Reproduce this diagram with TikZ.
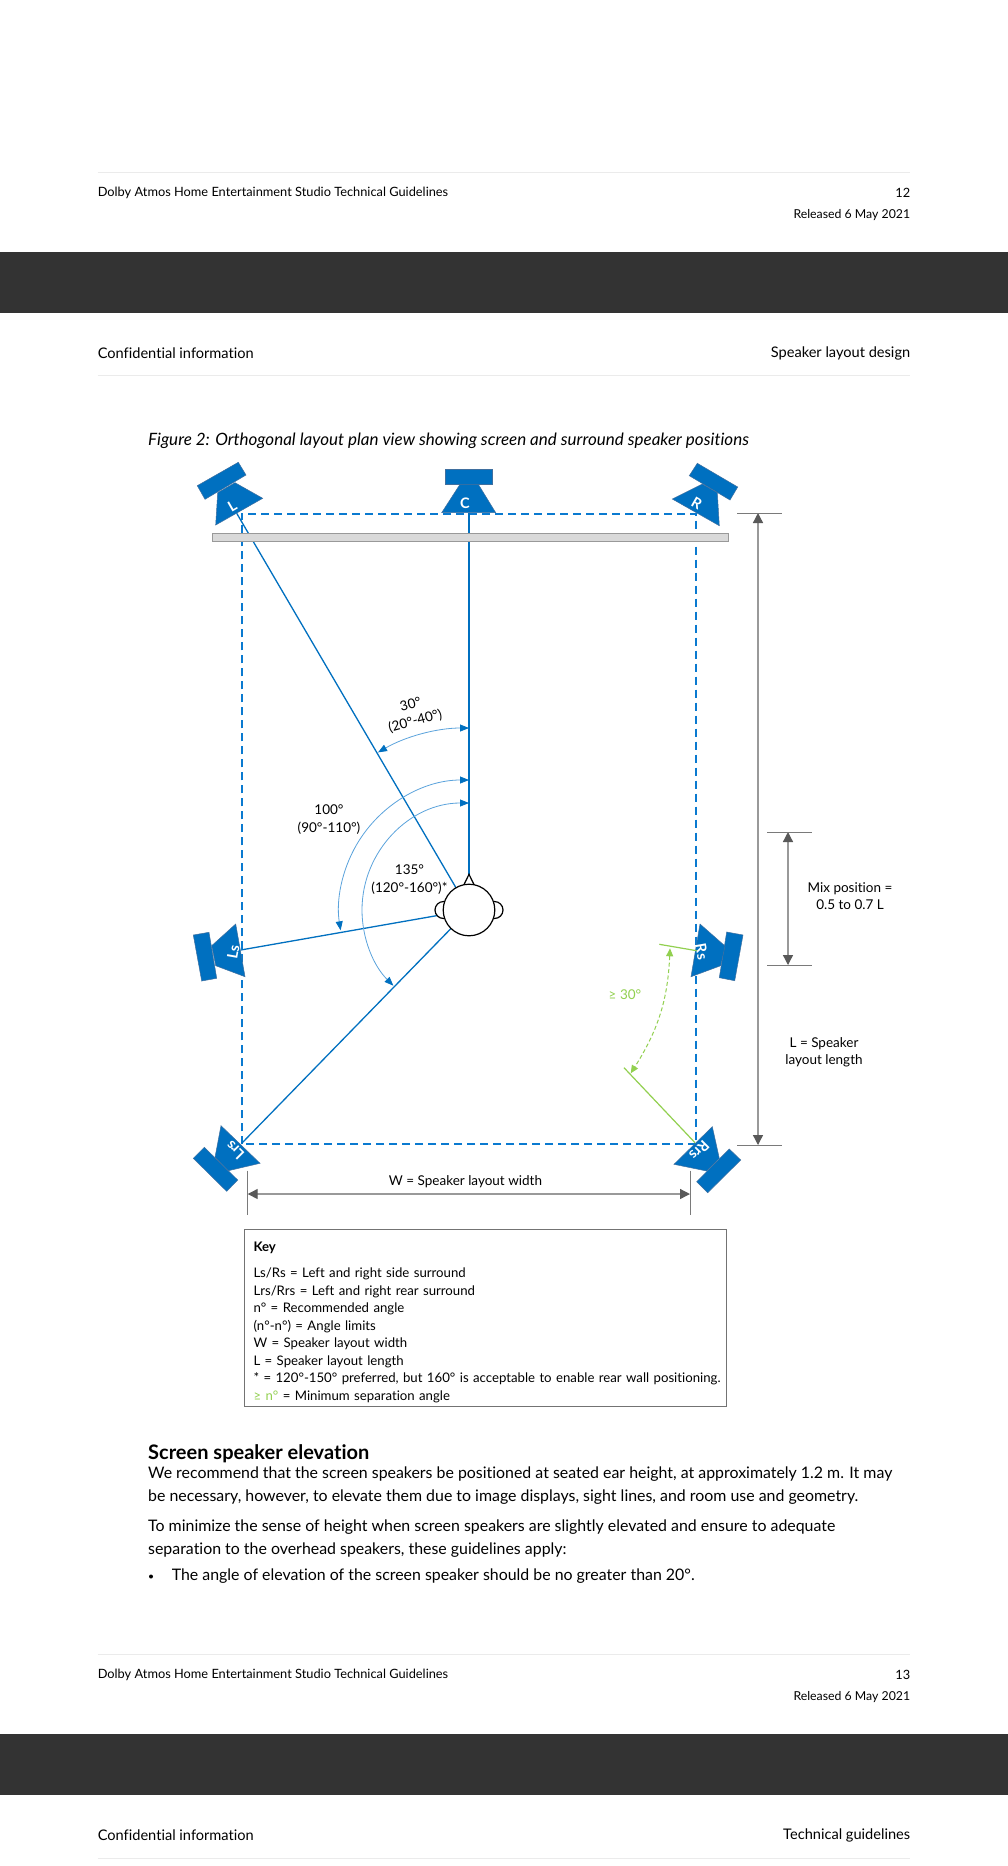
\documentclass[tikz,border=0pt]{standalone}
\usepackage{fontspec}
\setmainfont{Lato}[Ligatures=NoCommon]
\usetikzlibrary{arrows.meta}
\usetikzlibrary{arrows}
\definecolor{spkblue}{HTML}{0070C0}
\definecolor{spkedge}{HTML}{3F6F9F}
\definecolor{layoutblue}{HTML}{0A7AD0}
\definecolor{arcblue}{HTML}{5BA3DC}
\definecolor{mingreen}{HTML}{92D050}
\definecolor{dimgray}{HTML}{999999}
\definecolor{headgray}{HTML}{595959}
\definecolor{rulegray}{HTML}{EBEBEB}
\definecolor{bandgray}{HTML}{333333}
\tikzset{
pagetext/.style = {inner sep = 0pt, font = \fontsize{12.8}{17.5}\selectfont},
bodytext/.style = {inner sep = 0pt, align = left, font = \fontsize{15.9}{23}\selectfont},
figtext/.style = {inner sep = 0pt, align = center, font = \fontsize{13.5}{17.5}\selectfont},
spkbody/.style = {fill = spkblue, draw = spkedge, line width = 0.5pt},
spklabel/.style = {inner sep = 0pt, text = white, font = \fontsize{14.5}{14.5}\bfseries\selectfont},
sightline/.style = {draw = spkblue, line width = 1.3pt},
anglearc/.style = {draw = arcblue, line width = 0.8pt, {Triangle[length = 9pt, width = 7pt, color = spkblue]}-{Triangle[length = 9pt, width = 7pt, color = spkblue]}},
dimline/.style = {draw = dimgray, line width = 1.3pt, {Triangle[length = 10pt, width = 10pt, color = headgray]}-{Triangle[length = 10pt, width = 10pt, color = headgray]}},
dimtick/.style = {draw = dimgray!80!black, line width = 0.9pt}
}
\begin{document}
\begin{tikzpicture}[x = 1pt, y = -1pt]
\useasboundingbox (0,0) rectangle (1008,1866);
\fill[white] (0,0) rectangle (1008,1866);
\draw[rulegray] (97.6,172.5) -- (910.4,172.5);
\draw (97.6,192.4) node[pagetext, anchor = west, name = hdl]{Dolby Atmos Home Entertainment Studio Technical Guidelines};
\draw (910.4,192.4) node[pagetext, anchor = east, name = hdr]{12};
\draw (910.4,215) node[pagetext, anchor = east, name = hdd]{\fontsize{12.3}{17}\selectfont Released 6 May 2021};
\fill[bandgray] (0,252) rectangle (1008,313);
\draw (97.6,353) node[pagetext, anchor = west, name = conl]{\fontsize{14.6}{17}\selectfont Confidential information};
\draw (910.4,353.6) node[pagetext, anchor = east, name = conr]{\fontsize{14.6}{17}\selectfont Speaker layout design};
\draw[rulegray] (97.6,375.5) -- (910.4,375.5);
\draw (148,441) node[bodytext, anchor = west, name = cap]{\fontsize{17}{23}\itshape\selectfont Figure 2: Orthogonal layout plan view showing screen and surround speaker positions};
\coordinate (tl) at (241.7,513.7);
\coordinate (tr) at (696.3,513.7);
\coordinate (bl) at (241.7,1144.3);
\coordinate (br) at (696.3,1144.3);
\coordinate (aimL) at (236.7,513.3);
\coordinate (aimC) at (469,513);
\coordinate (aimLs) at (240.7,950);
\coordinate (aimLrs) at (241.7,1143.3);
\draw[layoutblue, line width = 2pt, dash pattern = on 8pt off 5pt] (bl) -- (tl) -- (tr) -- (br) -- cycle;
\draw[spkbody] (238.3,462.3) -- (246,475) -- (205,499.3) -- (197.3,485.7) -- cycle;
\draw[spkbody] (235,482.7) -- (262.7,498.3) -- (215.7,525) -- (217.7,492.7) -- cycle;
\draw[spkbody] (445,469) rectangle (492.3,484.3);
\draw[spkbody] (460,484.3) -- (478.3,484.3) -- (495.7,512.7) -- (441.7,512.7) -- cycle;
\draw[spkbody] (697.3,463.3) -- (737.7,487) -- (730,500) -- (689.3,475.7) -- cycle;
\draw[spkbody] (702.3,484) -- (717.3,492.7) -- (719.3,525.7) -- (672.3,499) -- cycle;
\draw[spkbody] (193.3,935) -- (209,932.3) -- (216.7,978.3) -- (201.7,981) -- cycle;
\draw[spkbody] (235.7,924) -- (245,976.7) -- (215.7,965.7) -- (211.7,945.7) -- cycle;
\draw[spkbody] (726.7,932) -- (743,935) -- (734.7,980.7) -- (719.3,977.7) -- cycle;
\draw[spkbody] (700,924) -- (725,946) -- (720.7,965.7) -- (691,976.7) -- cycle;
\draw[spkbody] (204.3,1147.3) -- (237.7,1180) -- (226.7,1191.3) -- (193.3,1158.3) -- cycle;
\draw[spkbody] (221,1125.7) -- (260,1163.3) -- (228.3,1170.7) -- (215,1157.3) -- cycle;
\draw[spkbody] (729.3,1149) -- (740.7,1160) -- (707.7,1192.7) -- (696.7,1181.7) -- cycle;
\draw[spkbody] (712.3,1126.7) -- (719.3,1158.3) -- (706.7,1171) -- (674,1164.3) -- cycle;
\draw (232.3,505.7) node[spklabel, rotate = 30, name = lblL]{L};
\draw (465,503.3) node[spklabel, name = lblC]{C};
\draw (696.7,503.3) node[spklabel, rotate = -30, name = lblR]{R};
\draw (233.3,951.7) node[spklabel, rotate = 80, name = lblLs]{Ls};
\draw (701.7,951.7) node[spklabel, rotate = -80, name = lblRs]{Rs};
\draw (235,1150) node[spklabel, rotate = 135, name = lblLrs]{Lrs};
\draw (699.3,1150.7) node[spklabel, rotate = 225, name = lblRrs]{Rrs};
\coordinate (headc) at (469,910);
\draw[sightline] (aimC) -- (headc);
\draw[sightline] (aimL) -- (headc);
\draw[sightline] (aimLs) -- (headc);
\draw[sightline] (aimLrs) -- (headc);
\draw[fill = white, draw = black, line width = 1.2pt] (443.5,910) circle[radius = 8.5pt];
\draw[fill = white, draw = black, line width = 1.2pt] (494.5,910) circle[radius = 8.5pt];
\draw[fill = white, draw = black, line width = 1.2pt] (469,874.3) -- (474,884.6) -- (464,884.6) -- cycle;
\draw (headc) node[circle, draw = black, fill = white, line width = 1.2pt, minimum size = 51.6pt, inner sep = 0pt, name = head]{};
\draw[fill = black!15, draw = dimgray, line width = 1pt] (212.7,533.3) rectangle (728.3,541);
\draw[anglearc] (headc) ++(90:182pt) arc[start angle = 90, end angle = 120, radius = 182pt];
\draw[anglearc] (headc) ++(90:130pt) arc[start angle = 90, end angle = 189, radius = 130pt];
\draw[anglearc] (headc) ++(90:107pt) arc[start angle = 90, end angle = 225, radius = 107pt];
\draw (413,713) node[figtext, rotate = 15, name = ang30]{30°\\(20°-40°)};
\draw (329,819.5) node[figtext, name = ang100]{100°\\(90°-110°)};
\draw (409.5,879.5) node[figtext, name = ang135]{135°\\(120°-160°)*};
\coordinate (grnA) at (659.3,944.3);
\coordinate (grnB) at (696.7,950.7);
\coordinate (grnC) at (624,1067.7);
\coordinate (grnD) at (695,1142.7);
\coordinate (grnE) at (670,948.3);
\coordinate (grnF) at (630.7,1073.3);
\draw[mingreen, line width = 1.2pt] (grnA) -- (grnB);
\draw[mingreen, line width = 1.2pt] (grnC) -- (grnD);
\draw[mingreen, line width = 1pt, dash pattern = on 4pt off 2.5pt, {Triangle[length = 8pt, width = 7pt]}-{Triangle[length = 8pt, width = 7pt]}] (grnE) to[bend left = 15] (grnF);
\draw (625,994.8) node[figtext, text = mingreen, name = ang30min]{≥ 30°};
\coordinate (lenT) at (758,513);
\coordinate (lenB) at (758,1145);
\coordinate (mixT) at (788,832);
\coordinate (mixB) at (788,965);
\coordinate (widL) at (247.7,1194);
\coordinate (widR) at (690,1194);
\draw[dimline] (lenT) -- (lenB);
\draw[dimline] (mixT) -- (mixB);
\draw[dimline] (widL) -- (widR);
\draw[dimtick] (737,513) -- (781.7,513);
\draw[dimtick] (737,1145) -- (781.7,1145);
\draw[dimtick] (767.3,832) -- (811.7,832);
\draw[dimtick] (767.3,965) -- (811.7,965);
\draw[dimtick] (247.7,1170.7) -- (247.7,1214.7);
\draw[dimtick] (690,1170.7) -- (690,1214.7);
\draw (850,896) node[figtext, name = mixtxt]{Mix position =\\0.5 to 0.7 L};
\draw (824,1052.3) node[figtext, name = lentxt]{L = Speaker\\layout length};
\draw (465.5,1181.5) node[figtext, name = widtxt]{W = Speaker layout width};
\draw (244,1229.3) node[draw = black!55, line width = 1pt, anchor = north west, minimum width = 482pt, minimum height = 176.7pt, inner xsep = 9pt, inner ysep = 0pt, text width = 464pt, align = left, font = \fontsize{13.2}{17.5}\selectfont, name = keybox]{\rule{0pt}{18pt}\textbf{Key}\\[8.8pt]Ls/Rs = Left and right side surround\\Lrs/Rrs = Left and right rear surround\\n° = Recommended angle\\(n°-n°) = Angle limits\\W = Speaker layout width\\L = Speaker layout length\\\mbox{* = 120°-150° preferred, but 160° is acceptable to enable rear wall positioning.}\\\textcolor{mingreen}{≥ n°} = Minimum separation angle};
\draw (148,1453.5) node[inner sep = 0pt, anchor = west, font = \fontsize{20}{23}\bfseries\selectfont, name = sect]{Screen speaker elevation};
\draw (148,1485.5) node[bodytext, anchor = west, name = par1]{We recommend that the screen speakers be positioned at seated ear height, at approximately 1.2 m. It may\\be necessary, however, to elevate them due to image displays, sight lines, and room use and geometry.};
\draw (148,1539) node[bodytext, anchor = west, name = par2]{To minimize the sense of height when screen speakers are slightly elevated and ensure to adequate\\separation to the overhead speakers, these guidelines apply:};
\fill[black] (151,1576.5) circle[radius = 2pt];
\draw (171.6,1576.5) node[bodytext, anchor = west, name = bul]{The angle of elevation of the screen speaker should be no greater than 20°.};
\draw[rulegray] (97.6,1654) -- (910.4,1654);
\draw (97.6,1675) node[pagetext, anchor = west, name = ftl]{Dolby Atmos Home Entertainment Studio Technical Guidelines};
\draw (910.4,1675) node[pagetext, anchor = east, name = ftr]{13};
\draw (910.4,1697.5) node[pagetext, anchor = east, name = ftd]{\fontsize{12.3}{17}\selectfont Released 6 May 2021};
\fill[bandgray] (0,1734) rectangle (1008,1795);
\draw (97.6,1835) node[pagetext, anchor = west, name = conl2]{\fontsize{14.6}{17}\selectfont Confidential information};
\draw (910.4,1835) node[pagetext, anchor = east, name = conr2]{\fontsize{14.6}{17}\selectfont Technical guidelines};
\draw[rulegray] (97.6,1858) -- (910.4,1858);
\end{tikzpicture}
\end{document}
